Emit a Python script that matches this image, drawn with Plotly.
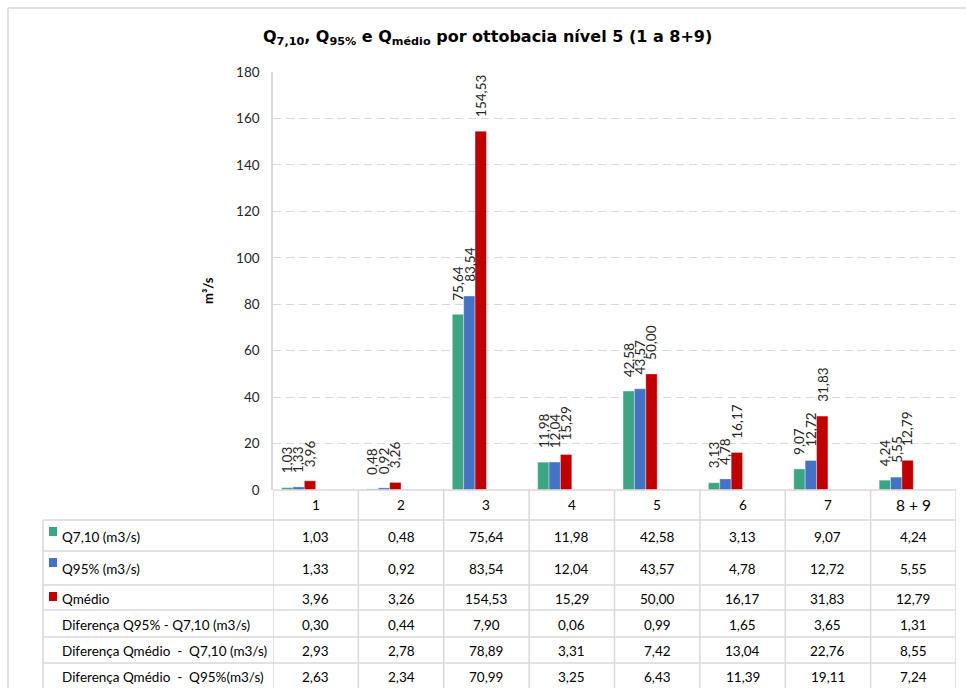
import plotly.graph_objects as go

# ---- data -------------------------------------------------------------
categories = ["1", "2", "3", "4", "5", "6", "7", "8 + 9"]
q710 = [1.03, 0.48, 75.64, 11.98, 42.58, 3.13, 9.07, 4.24]
q95 = [1.33, 0.92, 83.54, 12.04, 43.57, 4.78, 12.72, 5.55]
qmedio = [3.96, 3.26, 154.53, 15.29, 50.00, 16.17, 31.83, 12.79]
dif_q95_q710 = [0.30, 0.44, 7.90, 0.06, 0.99, 1.65, 3.65, 1.31]
dif_qmed_q710 = [2.93, 2.78, 78.89, 3.31, 7.42, 13.04, 22.76, 8.55]
dif_qmed_q95 = [2.63, 2.34, 70.99, 3.25, 6.43, 11.39, 19.11, 7.24]

series_names = ["Q7,10 (m3/s)", "Q95% (m3/s)", "Qmédio"]
diff_names = [
    "Diferença Q95% - Q7,10 (m3/s)",
    "Diferença Qmédio  -  Q7,10 (m3/s)",
    "Diferença Qmédio  -  Q95%(m3/s)",
]
y_ticks = [0, 20, 40, 60, 80, 100, 120, 140, 160, 180]

# ---- styling ----------------------------------------------------------
W, H = 966, 688
L, R, T, B = 273, 10, 72, 198
PLOT_W = W - L - R
PLOT_H = H - T - B
COL_PX = PLOT_W / len(categories)
FONT = "Lato"
GRID = "#d9d9d9"
colors = ["#3ca684", "#4472c4", "#c00000"]
BAR_W = 0.1333          # six slots per group, three of them drawn
offsets = [-0.4, -0.4 + BAR_W, -0.4 + 2 * BAR_W]


def fmt(v):
    return f"{v:.2f}".replace(".", ",")


def px_x(px):
    return (px - L) / PLOT_W


def px_y(py):
    return (H - B - py) / PLOT_H


fig = go.Figure()
all_series = [q710, q95, qmedio]
for name, vals, col, off in zip(series_names, all_series, colors, offsets):
    fig.add_trace(go.Bar(
        x=categories, y=vals, name=name, width=BAR_W, offset=off,
        marker=dict(color=col, line=dict(width=0.6, color="rgba(255,255,255,0.6)")),
        hoverinfo="skip", showlegend=False,
    ))

annotations = []
shapes = []

# rotated value labels above each bar (x given as category index)
for vals, off in zip(all_series, offsets):
    for i, v in enumerate(vals):
        annotations.append(dict(
            x=i, y=v, xref="x", yref="y", text=fmt(v), showarrow=False,
            textangle=-90, yanchor="bottom", xanchor="center",
            xshift=(off + BAR_W / 2) * COL_PX, yshift=12,
            font=dict(family=FONT, size=13.5, color="#262626"),
        ))

# title
annotations.append(dict(
    x=px_x(487), y=px_y(37), xref="paper", yref="paper", showarrow=False,
    text="Q<sub>7,10</sub>, Q<sub>95%</sub> e Q<sub>médio</sub> por ottobacia nível 5 (1 a 8+9)",
    font=dict(family="DejaVu Sans", size=16, color="#000000", weight="bold"),
    xanchor="center", yanchor="middle",
))

# y axis title
annotations.append(dict(
    x=px_x(208), y=px_y(291), xref="paper", yref="paper", showarrow=False,
    text="m³/s", textangle=-90, xanchor="center", yanchor="middle",
    font=dict(family=FONT, size=13, color="#000000", weight="bold"),
))

# ---- data table below the plot -----------------------------------------
row_edges = [490, 520, 551, 585, 610, 637, 663, 689]
TABLE_LEFT = 43
line = dict(color=GRID, width=1.5)

# header row: category labels
for i, c in enumerate(categories):
    annotations.append(dict(
        x=i, y=px_y((row_edges[0] + row_edges[1]) / 2), xref="x", yref="paper",
        text=c, showarrow=False, xanchor="center", yanchor="middle",
        font=dict(family=FONT, size=15.5 if "+" in c else 13.5, color="#000000"),
    ))

row_labels = series_names + diff_names
row_values = all_series + [dif_q95_q710, dif_qmed_q710, dif_qmed_q95]
for r, (lab, vals) in enumerate(zip(row_labels, row_values)):
    top, bot = row_edges[r + 1], row_edges[r + 2]
    mid = (top + bot) / 2 + 1
    annotations.append(dict(
        x=px_x(60), y=px_y(mid), xref="paper", yref="paper", text=lab,
        showarrow=False, xanchor="left", yanchor="middle",
        font=dict(family=FONT, size=13.5, color="#000000"),
    ))
    if r < 3:
        shapes.append(dict(
            type="rect", xref="paper", yref="paper",
            x0=px_x(49), x1=px_x(57), y0=px_y(top + 7), y1=px_y(top + 16),
            fillcolor=colors[r], line=dict(width=0),
        ))
    for i, v in enumerate(vals):
        annotations.append(dict(
            x=i, y=px_y(mid), xref="x", yref="paper", text=fmt(v),
            showarrow=False, xanchor="center", yanchor="middle",
            font=dict(family=FONT, size=13.5, color="#000000"),
        ))

# horizontal table lines
for k, py in enumerate(row_edges):
    x0 = px_x(L) if k == 0 else px_x(TABLE_LEFT)
    shapes.append(dict(type="line", xref="paper", yref="paper",
                       x0=x0, x1=1, y0=px_y(py), y1=px_y(py), line=line))
# vertical table lines
for k in range(len(categories) + 1):
    shapes.append(dict(type="line", xref="x", yref="paper",
                       x0=k - 0.5, x1=k - 0.5, y0=px_y(row_edges[0]),
                       y1=px_y(row_edges[-1]), line=line))
shapes.append(dict(type="line", xref="paper", yref="paper",
                   x0=px_x(TABLE_LEFT), x1=px_x(TABLE_LEFT),
                   y0=px_y(row_edges[1]), y1=px_y(row_edges[-1]), line=line))

# chart frame
shapes.append(dict(type="line", xref="paper", yref="paper",
                   x0=px_x(8), x1=px_x(W + 5), y0=px_y(8), y1=px_y(8), line=line))
shapes.append(dict(type="line", xref="paper", yref="paper",
                   x0=px_x(8), x1=px_x(8), y0=px_y(8), y1=px_y(H + 5), line=line))

fig.update_layout(
    width=W, height=H,
    margin=dict(l=L, r=R, t=T, b=B, autoexpand=False),
    paper_bgcolor="white", plot_bgcolor="white",
    barmode="overlay",
    annotations=annotations, shapes=shapes,
    xaxis=dict(type="category", range=[-0.5, len(categories) - 0.5],
               showticklabels=False, showgrid=False, zeroline=False,
               showline=False, ticks=""),
    yaxis=dict(range=[0, 180], tickvals=y_ticks,
               showgrid=True, gridcolor=GRID, gridwidth=1.2, griddash="8px,5px",
               zeroline=False, showline=True, linecolor=GRID, linewidth=1.5,
               ticks="outside", ticklen=9, tickcolor="rgba(0,0,0,0)",
               tickfont=dict(family=FONT, size=13.5, color="#262626")),
    font=dict(family=FONT),
)

fig.write_html("out.html")
